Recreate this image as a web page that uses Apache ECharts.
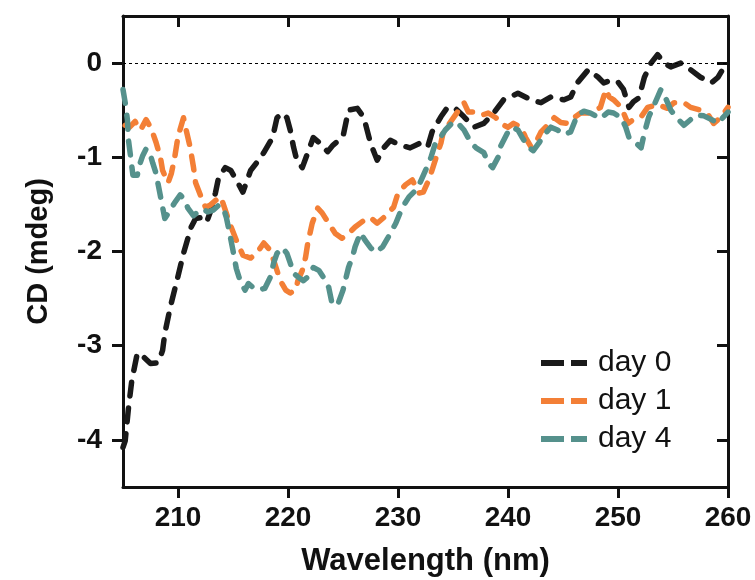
<!DOCTYPE html>
<html>
<head>
<meta charset="utf-8">
<title>CD spectra</title>
<script src="https://cdn.jsdelivr.net/npm/echarts@6/dist/echarts.min.js"></script>
<style>
  html, body { margin: 0; padding: 0; background: #fff; }
  #chart { width: 755px; height: 580px; }
</style>
</head>
<body>
<div id="chart"></div>
<script>
// values (wavelength in nm, CD in mdeg)
var xTicks = [210, 220, 230, 240, 250, 260];
var yTicks = [-4, -3, -2, -1, 0];

var day0Wl = [205.0, 205.2, 205.5, 205.8, 206.3, 206.7, 207.5, 208.2, 208.6, 208.8, 209.3, 209.9, 210.5, 211.2, 211.6, 212.1, 212.6, 213.0, 213.4, 213.7, 214.3, 214.8, 215.3, 215.9, 216.6, 217.2, 217.8, 218.6, 219.0, 219.5, 219.9, 220.2, 220.5, 220.8, 221.3, 221.8, 222.3, 222.9, 223.6, 224.1, 225.0, 225.5, 226.3, 226.9, 227.5, 228.1, 228.7, 229.3, 230.2, 231.1, 232.0, 232.7, 233.1, 233.9, 234.5, 235.2, 236.0, 236.9, 237.8, 238.7, 239.6, 240.9, 242.1, 243.0, 243.9, 245.1, 245.7, 246.3, 247.3, 248.2, 248.7, 249.4, 250.0, 250.5, 251.0, 251.4, 251.9, 252.4, 253.0, 253.6, 254.2, 254.8, 255.7, 256.6, 257.5, 258.5, 259.1, 259.6, 260.0];
var day0Cd = [-4.08, -4.01, -3.66, -3.37, -3.08, -3.10, -3.19, -3.18, -3.05, -2.87, -2.59, -2.31, -2.02, -1.74, -1.65, -1.64, -1.69, -1.56, -1.38, -1.21, -1.11, -1.14, -1.24, -1.37, -1.14, -1.05, -0.95, -0.79, -0.58, -0.53, -0.58, -0.71, -0.89, -1.03, -1.11, -0.95, -0.79, -0.85, -0.94, -0.87, -0.78, -0.50, -0.48, -0.58, -0.85, -1.03, -0.90, -0.82, -0.87, -0.90, -0.85, -0.89, -0.73, -0.57, -0.47, -0.48, -0.57, -0.68, -0.64, -0.53, -0.39, -0.32, -0.39, -0.42, -0.36, -0.39, -0.36, -0.21, -0.07, -0.15, -0.21, -0.18, -0.20, -0.28, -0.47, -0.41, -0.37, -0.15, 0.00, 0.09, 0.00, -0.04, 0.00, -0.07, -0.15, -0.21, -0.15, -0.05, -0.02];

var day1Wl = [205.2, 205.6, 206.1, 206.4, 206.6, 207.1, 207.5, 207.7, 208.0, 208.4, 208.6, 209.1, 209.4, 209.7, 210.0, 210.5, 210.7, 211.1, 211.4, 211.6, 212.1, 212.5, 212.9, 213.5, 213.9, 214.3, 214.7, 215.3, 215.9, 216.6, 217.2, 217.8, 218.4, 218.8, 219.3, 219.8, 220.2, 220.7, 220.9, 221.3, 221.6, 221.8, 222.2, 222.7, 223.1, 223.7, 224.3, 224.9, 225.5, 226.1, 226.9, 227.5, 228.1, 228.7, 229.1, 229.6, 230.0, 230.7, 231.3, 231.9, 232.3, 232.8, 233.2, 233.6, 233.9, 234.1, 234.8, 235.4, 236.0, 236.4, 237.1, 237.7, 238.2, 238.9, 239.3, 240.0, 240.5, 241.2, 241.6, 242.1, 242.5, 243.0, 243.6, 244.2, 244.8, 245.4, 246.0, 246.6, 247.5, 248.4, 248.9, 249.2, 249.6, 250.3, 250.9, 251.4, 252.1, 252.7, 253.6, 254.5, 255.1, 256.0, 256.6, 257.5, 258.2, 258.7, 259.4, 260.0];
var day1Cd = [-0.66, -0.68, -0.62, -0.68, -0.71, -0.60, -0.68, -0.74, -0.84, -1.00, -1.14, -1.27, -1.17, -1.00, -0.78, -0.58, -0.69, -0.89, -1.10, -1.27, -1.42, -1.53, -1.51, -1.45, -1.42, -1.56, -1.70, -1.88, -2.04, -2.07, -2.01, -1.91, -1.99, -2.13, -2.31, -2.41, -2.44, -2.41, -2.31, -2.20, -2.06, -1.91, -1.70, -1.54, -1.59, -1.70, -1.81, -1.86, -1.81, -1.74, -1.67, -1.64, -1.70, -1.64, -1.59, -1.53, -1.38, -1.29, -1.24, -1.38, -1.37, -1.24, -1.10, -0.95, -0.85, -0.74, -0.62, -0.52, -0.42, -0.52, -0.52, -0.55, -0.53, -0.58, -0.64, -0.68, -0.64, -0.68, -0.79, -0.89, -0.85, -0.73, -0.66, -0.58, -0.63, -0.64, -0.58, -0.53, -0.53, -0.47, -0.28, -0.36, -0.39, -0.47, -0.64, -0.60, -0.57, -0.47, -0.44, -0.48, -0.42, -0.42, -0.47, -0.50, -0.55, -0.64, -0.57, -0.47];

var day4Wl = [205.0, 205.2, 205.4, 205.5, 205.7, 205.9, 206.3, 206.5, 206.8, 207.1, 207.4, 207.7, 208.0, 208.3, 208.6, 208.8, 209.3, 209.7, 210.2, 210.6, 210.9, 211.4, 211.8, 212.3, 212.7, 213.2, 213.7, 214.1, 214.4, 214.7, 215.0, 215.3, 215.7, 216.1, 216.4, 216.8, 217.3, 217.9, 218.4, 218.7, 219.0, 219.5, 219.9, 220.2, 220.5, 220.9, 221.4, 221.8, 222.3, 222.8, 223.2, 223.7, 224.0, 224.5, 225.0, 225.5, 225.9, 226.1, 226.6, 227.0, 227.5, 228.0, 228.6, 229.1, 229.8, 230.4, 231.0, 231.6, 232.0, 232.5, 233.0, 233.4, 233.9, 234.3, 234.8, 235.3, 236.0, 236.6, 237.1, 237.8, 238.2, 238.6, 239.1, 239.3, 240.0, 240.4, 240.9, 241.3, 241.8, 242.3, 242.8, 243.3, 243.9, 244.5, 245.1, 245.7, 246.3, 246.9, 247.5, 248.4, 249.1, 249.6, 250.3, 250.7, 251.0, 251.4, 252.1, 252.4, 252.8, 253.3, 253.6, 253.9, 254.4, 254.8, 255.5, 256.0, 256.6, 257.1, 257.8, 258.5, 259.1, 259.6, 260.0];
var day4Cd = [-0.28, -0.42, -0.60, -0.82, -1.00, -1.19, -1.19, -1.08, -0.98, -0.91, -0.94, -1.06, -1.17, -1.35, -1.53, -1.65, -1.56, -1.48, -1.40, -1.45, -1.54, -1.62, -1.58, -1.55, -1.58, -1.56, -1.51, -1.53, -1.64, -1.81, -1.99, -2.18, -2.33, -2.41, -2.34, -2.38, -2.41, -2.39, -2.27, -2.12, -2.02, -1.96, -2.02, -2.12, -2.23, -2.27, -2.31, -2.27, -2.17, -2.20, -2.27, -2.38, -2.55, -2.57, -2.41, -2.17, -2.04, -1.95, -1.80, -1.88, -1.96, -2.01, -1.95, -1.85, -1.70, -1.53, -1.42, -1.35, -1.27, -1.14, -1.00, -0.85, -0.78, -0.71, -0.65, -0.62, -0.71, -0.84, -0.90, -0.95, -1.06, -1.11, -1.00, -0.89, -0.73, -0.68, -0.71, -0.79, -0.89, -0.93, -0.85, -0.76, -0.68, -0.71, -0.76, -0.73, -0.55, -0.51, -0.53, -0.59, -0.52, -0.53, -0.58, -0.68, -0.79, -0.82, -0.90, -0.74, -0.57, -0.44, -0.36, -0.28, -0.39, -0.50, -0.60, -0.66, -0.60, -0.55, -0.56, -0.60, -0.64, -0.57, -0.52];

var seriesNames = ['day 0', 'day 1', 'day 4'];
var seriesColors = ['#1a1a1a', '#f37f36', '#55918c'];

function pairs(xs, ys) {
  return xs.map(function (x, i) { return [x, ys[i]]; });
}

var font = 'Liberation Sans, Arial, sans-serif';
var dash = [14, 12];

function lineSeries(idx, xs, ys) {
  return {
    name: seriesNames[idx],
    type: 'line',
    data: pairs(xs, ys),
    symbol: 'none',
    color: seriesColors[idx],
    lineStyle: { width: 5.5, type: dash, cap: 'round', join: 'round', color: seriesColors[idx] },
    z: 3 + idx
  };
}

var chart = echarts.init(document.getElementById('chart'));

var series = [
  lineSeries(0, day0Wl, day0Cd),
  lineSeries(1, day1Wl, day1Cd),
  lineSeries(2, day4Wl, day4Cd)
];
// dotted zero line
series[0].markLine = {
  silent: true,
  symbol: 'none',
  label: { show: false },
  lineStyle: { color: '#000', width: 1.2, type: [3, 3] },
  data: [{ yAxis: 0 }]
};

var frameLine = { onZero: false, lineStyle: { color: '#111', width: 3 } };

chart.setOption({
  animation: false,
  backgroundColor: '#fff',
  grid: { left: 123, right: 27, top: 16, bottom: 93, outerBoundsMode: 'none' },
  legend: {
    orient: 'vertical',
    left: 536,
    top: 343,
    itemWidth: 46,
    itemHeight: 6,
    itemGap: 8,
    // two short dashes, like the line style
    icon: 'path://M0,0 h23 v6 h-23 Z M30,0 h16 v6 h-16 Z',
    data: seriesNames,
    textStyle: { fontFamily: font, fontSize: 30, color: '#111', lineHeight: 30, padding: [0, 0, 0, 6] }
  },
  xAxis: [
    {
      type: 'value', min: 205, max: 260, position: 'bottom',
      name: 'Wavelength (nm)', nameLocation: 'middle', nameGap: 59,
      nameTextStyle: { fontFamily: font, fontWeight: 'bold', fontSize: 31, color: '#111' },
      splitLine: { show: false },
      axisLine: frameLine,
      axisTick: { length: 11, lineStyle: { width: 3, color: '#111' }, customValues: xTicks },
      axisLabel: { margin: 17, fontFamily: font, fontWeight: 'bold', fontSize: 28, color: '#111', customValues: xTicks }
    },
    {
      type: 'value', min: 205, max: 260, position: 'top',
      splitLine: { show: false },
      axisLine: frameLine,
      axisTick: { inside: true, length: 11, lineStyle: { width: 3, color: '#111' }, customValues: xTicks },
      axisLabel: { show: false }
    }
  ],
  yAxis: [
    {
      type: 'value', min: -4.5, max: 0.5, position: 'left',
      name: 'CD (mdeg)', nameLocation: 'middle', nameGap: 70,
      nameTextStyle: { fontFamily: font, fontWeight: 'bold', fontSize: 29, color: '#111' },
      splitLine: { show: false },
      axisLine: frameLine,
      axisTick: { length: 11, lineStyle: { width: 3, color: '#111' }, customValues: yTicks },
      axisLabel: { margin: 21, fontFamily: font, fontWeight: 'bold', fontSize: 28, color: '#111', customValues: yTicks }
    },
    {
      type: 'value', min: -4.5, max: 0.5, position: 'right',
      splitLine: { show: false },
      axisLine: frameLine,
      axisTick: { inside: true, length: 11, lineStyle: { width: 3, color: '#111' }, customValues: yTicks },
      axisLabel: { show: false }
    }
  ],
  series: series
});
</script>
</body>
</html>
